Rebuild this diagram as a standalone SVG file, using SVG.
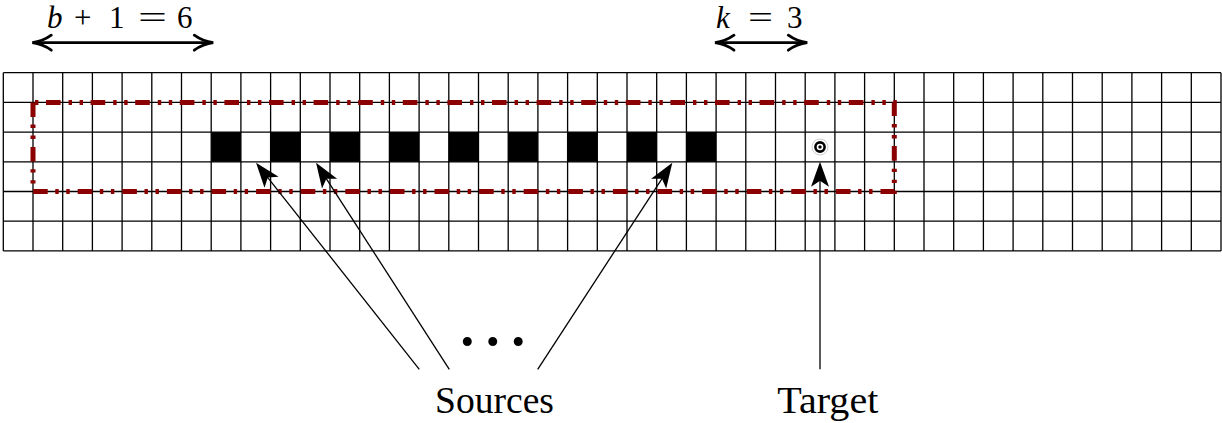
<svg xmlns="http://www.w3.org/2000/svg" width="1222" height="423" viewBox="0 0 1222 423">
<style>
.grid{fill:none;stroke:#000;stroke-width:1.3}
.region{fill:none;stroke:#8b0000;stroke-width:5;stroke-dasharray:14.6 7.6 3.4 7.6 3.4 8;stroke-linecap:butt}
.src{fill:#000}
.conn{fill:none;stroke:#000;stroke-width:1.3}
.dim{fill:none;stroke:#000;stroke-width:2.8}
text{font-family:'Liberation Serif','DejaVu Serif',serif;fill:#000}
.math{font-size:31px}
.lbl{font-size:37px}
</style>
<defs>
<marker id="stealth" markerUnits="userSpaceOnUse" viewBox="-26 -10 28 20" refX="-18" refY="0" markerWidth="28" markerHeight="20" orient="auto">
<path d="M0,0 L-25,-9 L-19,0 L-25,9 Z" fill="#000"/>
</marker>
<marker id="to" markerUnits="userSpaceOnUse" viewBox="-22 -10 24 20" refX="-1" refY="0" markerWidth="24" markerHeight="20" orient="auto-start-reverse">
<path d="M-19,-7.5 C-12,-2.5 -5,-0.6 0,0 C-5,0.6 -12,2.5 -19,7.5" fill="none" stroke="#000" stroke-width="2.8" stroke-linecap="round"/>
</marker>
</defs>
<rect width="1222" height="423" fill="#fff"/>
<g id="grid">
<path class="grid" d="M3.3,72.7H1221 M3.3,102.4H1221 M3.3,132.1H1221 M3.3,161.8H1221 M3.3,191.5H1221 M3.3,221.2H1221 M3.3,250.9H1221
M3.3,72.7V250.9 M33,72.7V250.9 M62.7,72.7V250.9 M92.4,72.7V250.9 M122.1,72.7V250.9 M151.8,72.7V250.9 M181.5,72.7V250.9 M211.2,72.7V250.9 M240.9,72.7V250.9 M270.6,72.7V250.9
M300.3,72.7V250.9 M330,72.7V250.9 M359.7,72.7V250.9 M389.4,72.7V250.9 M419.1,72.7V250.9 M448.8,72.7V250.9 M478.5,72.7V250.9 M508.2,72.7V250.9 M537.9,72.7V250.9 M567.6,72.7V250.9
M597.3,72.7V250.9 M627,72.7V250.9 M656.7,72.7V250.9 M686.4,72.7V250.9 M716.1,72.7V250.9 M745.8,72.7V250.9 M775.5,72.7V250.9 M805.2,72.7V250.9 M834.9,72.7V250.9 M864.6,72.7V250.9
M894.3,72.7V250.9 M924,72.7V250.9 M953.7,72.7V250.9 M983.4,72.7V250.9 M1013.1,72.7V250.9 M1042.8,72.7V250.9 M1072.5,72.7V250.9 M1102.2,72.7V250.9 M1131.9,72.7V250.9 M1161.6,72.7V250.9
M1191.3,72.7V250.9 M1221,72.7V250.9"/>
</g>
<g id="region">
<path class="region" d="M33,102.4 V191.5 H894.3 V102.4 Z"/>
</g>
<g id="sources">
<rect id="source1" class="src" x="211.2" y="132.1" width="29.7" height="29.7"/>
<rect id="source2" class="src" x="270.6" y="132.1" width="29.7" height="29.7"/>
<rect id="source3" class="src" x="330" y="132.1" width="29.7" height="29.7"/>
<rect id="source4" class="src" x="389.4" y="132.1" width="29.7" height="29.7"/>
<rect id="source5" class="src" x="448.8" y="132.1" width="29.7" height="29.7"/>
<rect id="source6" class="src" x="508.2" y="132.1" width="29.7" height="29.7"/>
<rect id="source7" class="src" x="567.6" y="132.1" width="29.7" height="29.7"/>
<rect id="source8" class="src" x="627" y="132.1" width="29.7" height="29.7"/>
<rect id="source9" class="src" x="686.4" y="132.1" width="29.7" height="29.7"/>
</g>
<g id="target">
<circle cx="820" cy="147" r="8" fill="#fff" stroke="#aaa" stroke-width="0.6"/>
<circle cx="820" cy="147" r="4.6" fill="#fff" stroke="#000" stroke-width="2.6"/>
<circle cx="820" cy="147" r="1.7" fill="#000"/>
</g>
<g id="connectors">
<line class="conn" x1="419.3" y1="369.3" x2="267.2" y2="176.8" marker-end="url(#stealth)"/>
<line class="conn" x1="449.3" y1="369.3" x2="325.8" y2="177.8" marker-end="url(#stealth)"/>
<line class="conn" x1="537.7" y1="369.3" x2="662.5" y2="177.8" marker-end="url(#stealth)"/>
<line class="conn" x1="820" y1="369.3" x2="820" y2="179.7" marker-end="url(#stealth)"/>
<line class="dim" x1="33.3" y1="42.7" x2="212.3" y2="42.7" marker-start="url(#to)" marker-end="url(#to)"/>
<line class="dim" x1="716" y1="42.7" x2="806.3" y2="42.7" marker-start="url(#to)" marker-end="url(#to)"/>
</g>
<g id="labels">
<text class="math" y="28" font-family="Liberation Serif, serif"><tspan x="47" font-style="italic">b</tspan><tspan x="74">+</tspan><tspan x="109">1</tspan><tspan x="138" textLength="29" lengthAdjust="spacingAndGlyphs">=</tspan><tspan x="177">6</tspan></text>
<text class="math" y="28" font-family="Liberation Serif, serif"><tspan x="716" font-style="italic">k</tspan><tspan x="748" textLength="25" lengthAdjust="spacingAndGlyphs">=</tspan><tspan x="787">3</tspan></text>
<text x="492.7" y="345" text-anchor="middle" font-size="76" font-family="Liberation Serif, serif">…</text>
<text class="lbl" x="435" y="413.3" textLength="119" lengthAdjust="spacingAndGlyphs" font-family="Liberation Serif, serif">Sources</text>
<text class="lbl" x="777.3" y="412.7" textLength="101" lengthAdjust="spacingAndGlyphs" font-family="Liberation Serif, serif">Target</text>
</g>
</svg>
